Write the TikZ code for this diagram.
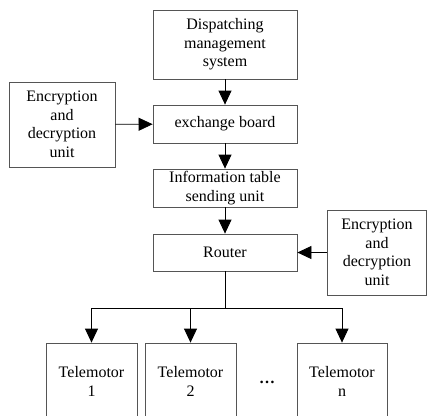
\documentclass[tikz,border=0pt]{standalone}
\usepackage{fontspec}
\setmainfont{Liberation Serif}
\usetikzlibrary{arrows.meta,positioning,calc}
\definecolor{boxgray}{RGB}{85,85,85}

\begin{document}
\begin{tikzpicture}[x=1pt, y=-1pt,
		unitbox/.style={draw=boxgray, line width=0.8pt, align=center, inner sep=0pt, font=\fontsize{16}{18.5}\selectfont},
		flow/.style={line width=0.8pt, -{Triangle[width=13pt,length=14pt]}}]
				\clip (0,0) rectangle (427,415);
				
				% Main chain
				\node[unitbox, minimum width=144pt, minimum height=69pt] (dms) at (225,44.5) {Dispatching\\management\\system};
				\node[unitbox, minimum width=144pt, minimum height=38pt] (board) at (225,124) {exchange board};
				\node[unitbox, minimum width=144pt, minimum height=38pt] (info) at (225,188) {Information table\\sending unit};
				\node[unitbox, minimum width=144pt, minimum height=37pt] (router) at (225,252.5) {Router};
				
				% Encryption units
				\node[unitbox, minimum width=106pt, minimum height=85pt] (encleft) at (62,124.5) {Encryption\\and\\decryption\\unit};
				\node[unitbox, minimum width=99pt, minimum height=85pt] (encright) at (377,252.5) {Encryption\\and\\decryption\\unit};
				
				\draw[flow] (dms) -- (board);
				\draw[flow] (board) -- (info);
				\draw[flow] (info) -- (router);
				\draw[flow] (encleft) -- (board);
				\draw[flow] (encright) -- (router);
				
				% Telemotors
				\node[unitbox, minimum width=91pt, minimum height=77pt] (tm1) at (91.5,381.5) {Telemotor\\1};
				\node[unitbox, minimum width=91pt, minimum height=77pt] (tm2) at (190.5,381.5) {Telemotor\\2};
				\node[unitbox, minimum width=90pt, minimum height=77pt] (tmn) at (342,381.5) {Telemotor\\n};
				\node[anchor=base, font=\fontsize{16}{18.5}\selectfont\bfseries] (dots) at (267,383) {…};
				
				\coordinate (split) at (225,308);
				\draw[line width=0.8pt] (router) -- (split);
				\draw[flow] (split) -| (tm1);
				\draw[flow] (split) -| (tm2);
				\draw[flow] (split) -| (tmn);
			\end{tikzpicture}
\end{document}
